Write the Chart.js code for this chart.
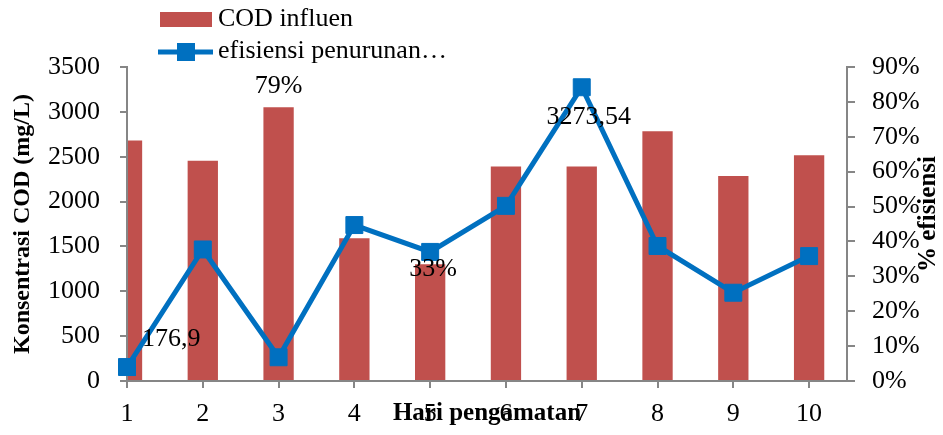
<!DOCTYPE html>
<html>
<head>
<meta charset="utf-8">
<script src="https://cdn.jsdelivr.net/npm/chart.js@4"></script>
<style>
  html, body { margin: 0; padding: 0; background: #fff; }
  #wrap { width: 943px; height: 435px; position: relative; }
</style>
</head>
<body>
<div id="wrap"><canvas id="codChart"></canvas></div>
<script>
// Datos del gráfico
const hari = [1, 2, 3, 4, 5, 6, 7, 8, 9, 10];
const codInfluen = [2680, 2455, 3050, 1590, 1300, 2390, 2390, 2785, 2285, 2515];
const efisiensi = [4, 37.7, 6.8, 44.7, 37, 50.2, 84.2, 38.7, 25.3, 35.8];
const labelSeries = ['COD influen', 'efisiensi penurunan…'];
const anotasi = ['176,9', '79%', '33%', '3273,54'];

const abu = '#868686';
const merah = '#C0504D';
const biru = '#0070C0';
const fontSerif = '"Liberation Serif", "Times New Roman", serif';

// Etiquetas de datos sueltas, pegadas a puntos/barras concretos
const posAnotasi = [
  { ds: 0, i: 0, dx: 15, dy: -28, align: 'left' },
  { ds: 1, i: 2, dx: 0, dy: -21, align: 'center' },
  { ds: 0, i: 4, dx: 3, dy: 17, align: 'center' },
  { ds: 0, i: 6, dx: 7, dy: 30, align: 'center' }
];

const pluginExtra = {
  id: 'pluginExtra',
  afterDatasetsDraw(chart) {
    const ctx = chart.ctx;
    ctx.save();
    ctx.font = '26px ' + fontSerif;
    ctx.fillStyle = '#000';
    ctx.textBaseline = 'middle';
    posAnotasi.forEach((p, k) => {
      const el = chart.getDatasetMeta(p.ds).data[p.i];
      ctx.textAlign = p.align;
      ctx.fillText(anotasi[k], el.x + p.dx, el.y + p.dy);
    });
    ctx.restore();
  },
  afterDraw(chart) {
    const ctx = chart.ctx;
    // el primer marcador va encima del eje
    chart.getDatasetMeta(0).data[0].draw(ctx, chart.chartArea);
    ctx.save();
    // leyenda manual (dos filas)
    ctx.fillStyle = merah;
    ctx.fillRect(160, 12, 52, 15);
    ctx.strokeStyle = biru;
    ctx.lineWidth = 5;
    ctx.beginPath();
    ctx.moveTo(158, 52);
    ctx.lineTo(213, 52);
    ctx.stroke();
    ctx.fillStyle = biru;
    ctx.fillRect(177, 43, 18, 18);
    ctx.fillStyle = '#000';
    ctx.font = '26px ' + fontSerif;
    ctx.textAlign = 'left';
    ctx.textBaseline = 'middle';
    ctx.fillText(labelSeries[0], 218, 19);
    ctx.fillText(labelSeries[1], 218, 51);
    // título del eje derecho (se lee de abajo arriba)
    const area = chart.chartArea;
    ctx.translate(929, (area.top + area.bottom) / 2 - 10);
    ctx.rotate(-Math.PI / 2);
    ctx.font = 'bold 25px ' + fontSerif;
    ctx.textAlign = 'center';
    ctx.fillText('% efisiensi', 0, 0);
    ctx.restore();
  }
};

new Chart(document.getElementById('codChart'), {
  type: 'bar',
  data: {
    datasets: [
      {
        type: 'line',
        label: labelSeries[1],
        data: hari.map((h, i) => ({ x: h, y: efisiensi[i] })),
        yAxisID: 'y1',
        borderColor: biru,
        backgroundColor: biru,
        borderWidth: 5,
        tension: 0,
        pointStyle: 'rect',
        pointRadius: 12,
        pointBorderWidth: 1,
        order: 1
      },
      {
        label: labelSeries[0],
        data: hari.map((h, i) => ({ x: h, y: codInfluen[i] })),
        yAxisID: 'y',
        backgroundColor: merah,
        barPercentage: 0.4,
        categoryPercentage: 1,
        clip: 0,
        order: 2
      }
    ]
  },
  options: {
    responsive: true,
    maintainAspectRatio: false,
    animation: false,
    layout: { padding: { top: 67, left: 0, right: 0, bottom: 0 } },
    plugins: {
      legend: { display: false },
      tooltip: { enabled: false }
    },
    scales: {
      x: {
        type: 'linear',
        min: 1,
        max: 10.5,
        offset: false,
        afterFit(s) { s.height = 54; },
        ticks: {
          stepSize: 1,
          includeBounds: false,
          color: '#000',
          padding: 11,
          font: { family: fontSerif, size: 26 }
        },
        grid: { offset: false, drawOnChartArea: false, color: abu, lineWidth: 2, tickLength: 7 },
        border: { color: abu, width: 2 },
        title: {
          display: true,
          text: 'Hari pengamatan',
          color: '#000',
          padding: { top: 0, bottom: 6 },
          font: { family: fontSerif, size: 25, weight: 'bold' }
        }
      },
      y: {
        position: 'left',
        min: 0,
        max: 3500,
        // fondo blanco del eje pintado después de las barras: corta la primera barra
        backgroundColor: '#fff',
        afterFit(s) { s.width = 127; },
        ticks: {
          z: 2,
          stepSize: 500,
          color: '#000',
          padding: 20,
          font: { family: fontSerif, size: 26 },
          callback: v => String(v)
        },
        grid: { z: 1, drawOnChartArea: false, color: abu, lineWidth: 2, tickLength: 7 },
        border: { z: 1, color: abu, width: 2 },
        title: {
          display: true,
          text: 'Konsentrasi COD (mg/L)',
          color: '#000',
          padding: { top: 8, bottom: 0 },
          font: { family: fontSerif, size: 24, weight: 'bold' }
        }
      },
      y1: {
        position: 'right',
        min: 0,
        max: 90,
        afterFit(s) { s.width = 96; },
        ticks: {
          stepSize: 10,
          color: '#000',
          padding: 17,
          font: { family: fontSerif, size: 26 },
          callback: v => v + '%'
        },
        grid: { drawOnChartArea: false, color: abu, lineWidth: 2, tickLength: 8 },
        border: { color: abu, width: 2 }
      }
    }
  },
  plugins: [pluginExtra]
});
</script>
</body>
</html>
